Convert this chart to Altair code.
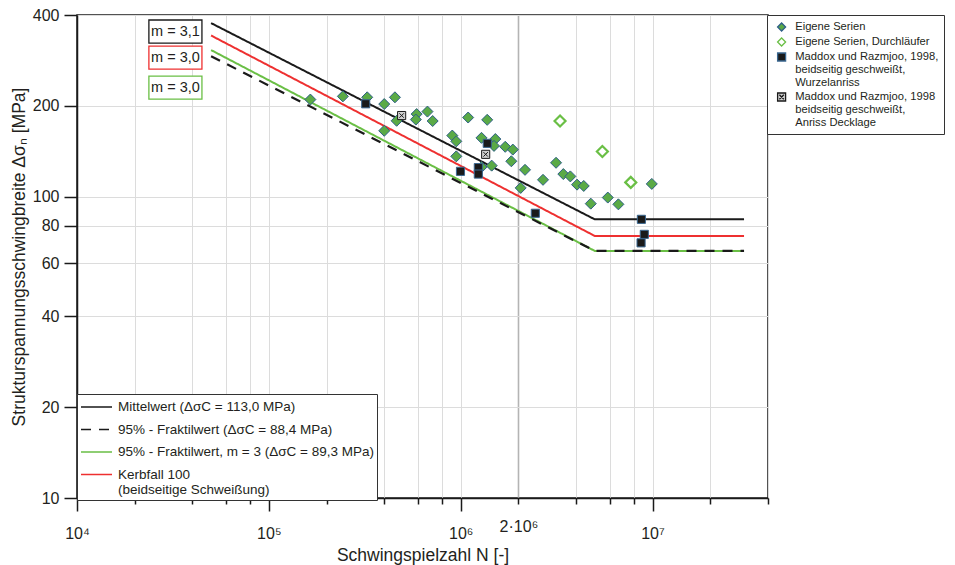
import altair as alt
import pandas as pd

# ---------------- data ----------------
# Eigene Serien (filled diamonds)
eig_N = [164600, 243200, 325700, 399500, 454300, 463700, 399500, 589600, 584000,
         671200, 714500, 1094000, 1375000, 904300, 948600, 948600, 1284000, 1516000,
         1492000, 1707000, 1870000, 1837000, 1451000, 1284000, 2165000, 2056000,
         3142000, 2687000, 3429000, 3730000, 4043000, 4381000, 4767000, 5847000,
         6639000, 9915000]
eig_S = [209.7, 214.9, 213.3, 202.6, 213.3, 178.3, 165.2, 187.7, 180.0,
         191.3, 178.0, 182.8, 179.6, 159.3, 152.4, 135.9, 156.5, 155.1,
         147.2, 146.2, 143.1, 130.9, 126.6, 125.2, 122.6, 106.8,
         129.4, 113.6, 118.7, 116.6, 109.5, 108.4, 94.7, 99.2,
         94.2, 110.1]
# Eigene Serien, Durchläufer (hollow diamonds)
dl_N = [3296000, 5479000, 7705000]
dl_S = [178.0, 141.1, 111.4]
# Maddox und Razmjoo, Wurzelanriss (black squares)
mw_N = [319900, 1376000, 997700, 1236000, 1236000, 2450000, 8750000, 9063000, 8718000]
mw_S = [203.0, 150.1, 121.2, 124.7, 118.7, 88.0, 84.0, 74.9, 70.2]
# Maddox und Razmjoo, Anriss Decklage (crossed squares)
md_N = [492300, 1350000]
md_S = [185.6, 138.0]

series_names = [
    "Eigene Serien",
    "Eigene Serien, Durchläufer",
    "Maddox und Razmjoo, 1998,|beidseitig geschweißt,|Wurzelanriss",
    "Maddox und Razmjoo, 1998|beidseitig geschweißt,|Anriss Decklage",
]

# S-N curves (start, knee, end)
curve_N = [5e4, 5e6, 3e7]
mittel_S = [376, 84, 84]
frak_S = [292, 66, 66]
frak3_S = [306, 66, 66]
kerb_S = [342, 74, 74]
curve_names = [
    "Mittelwert (ΔσC = 113,0 MPa)",
    "95% - Fraktilwert (ΔσC = 88,4 MPa)",
    "95% - Fraktilwert, m = 3 (ΔσC = 89,3 MPa)",
    "Kerbfall 100|(beidseitige Schweißung)",
]

# slope annotations
ann_text = ["m = 3,1", "m = 3,0", "m = 3,0"]
ann_colors = ["#1a1a1a", "#ee3030", "#6abf45"]
ann_N_left = [23700, 23700, 23700]
ann_N_right = [44800, 44800, 44800]
ann_N_mid = [32600, 32600, 32600]
ann_S_top = [385, 315.6, 250.7]
ann_S_bot = [322.8, 264.7, 210.3]
ann_S_mid = [352.5, 289, 229.6]

x_ticks = [1e4, 2e4, 4e4, 6e4, 8e4, 1e5, 2e5, 4e5, 6e5, 8e5,
           1e6, 2e6, 4e6, 6e6, 8e6, 1e7, 2e7, 4e7]
y_ticks = [10, 20, 40, 60, 80, 100, 200, 400]

# ---------------- tables ----------------
pts = pd.DataFrame({
    "N": eig_N + dl_N + mw_N + md_N,
    "S": eig_S + dl_S + mw_S + md_S,
    "Serie": [series_names[0]] * len(eig_N) + [series_names[1]] * len(dl_N)
             + [series_names[2]] * len(mw_N) + [series_names[3]] * len(md_N),
})
pts["ord"] = range(len(pts))

curves = pd.DataFrame({
    "N": curve_N * 4,
    "S": mittel_S + frak_S + frak3_S + kerb_S,
    "Kurve": sum([[c] * 3 for c in curve_names], []),
})

ann = pd.DataFrame({
    "t": ann_text, "Nl": ann_N_left, "Nr": ann_N_right, "Nm": ann_N_mid,
    "St": ann_S_top, "Sb": ann_S_bot, "Sm": ann_S_mid, "k": [0, 1, 2],
})

FONT = "Liberation Sans"
TXT = "#231f20"
XT = "Schwingspielzahl N [-]"
YT = "Strukturspannungsschwingbreite Δσₙ [MPa]"

xscale = alt.Scale(type="log", domain=[1e4, 4e7], nice=False)
yscale = alt.Scale(type="log", domain=[10, 400], nice=False)

major = "indexof([10000,100000,1000000,10000000], datum.value) >= 0"
xaxis = alt.Axis(
    values=x_ticks,
    labelExpr=("datum.value == 10000 ? '10⁴' : datum.value == 100000 ? '10⁵' : "
               "datum.value == 1000000 ? '10⁶' : datum.value == 2000000 ? '2·10⁶' : "
               "datum.value == 10000000 ? '10⁷' : ''"),
    tickSize={"condition": {"test": major, "value": 13}, "value": 6},
    gridColor={"condition": {"test": "datum.value == 2000000", "value": "#b4b4b4"}, "value": "#dcdcdc"},
    gridWidth={"condition": {"test": "datum.value == 2000000", "value": 1.6}, "value": 1},
    labelPadding=14, labelFlush=False, labelOverlap=False,
    titlePadding=5,
)
yaxis = alt.Axis(values=y_ticks, tickSize=13, labelPadding=5, titlePadding=4,
                 gridColor="#dcdcdc", labelOverlap=False)


def X(field):
    return alt.X(field, type="quantitative", scale=xscale, axis=xaxis, title=XT)


def Y(field):
    return alt.Y(field, type="quantitative", scale=yscale, axis=yaxis, title=YT)


line_legend = alt.Legend(
    title=None, orient="none", legendX=0, legendY=379, direction="vertical",
    symbolType="stroke", symbolSize=961, symbolStrokeWidth=1.6, clipHeight=20,
    rowPadding=2.5, labelFontSize=13.5, labelFont=FONT, labelColor=TXT,
    labelOffset=5, padding=3, strokeColor="#333333", fillColor="white",
    labelExpr="split(datum.label, '|')", labelLimit=0,
)
color_scale = alt.Scale(domain=curve_names, range=["#1a1a1a", "#1a1a1a", "#6abf45", "#ee3030"])
dash_scale = alt.Scale(domain=curve_names, range=[[1, 0], [10, 8], [1, 0], [1, 0]])

draw_order = [curve_names[2], curve_names[1], curve_names[3], curve_names[0]]
line_layers = []
for name in draw_order:
    line_layers.append(
        alt.Chart(curves).transform_filter(alt.datum.Kurve == name)
        .mark_line(strokeWidth=2.2 if name == curve_names[1] else 2)
        .encode(
            x=X("N"), y=Y("S"),
            color=alt.Color("Kurve:N", scale=color_scale, legend=line_legend),
            strokeDash=alt.StrokeDash("Kurve:N", scale=dash_scale, legend=line_legend),
        )
    )

pt_legend = alt.Legend(
    title=None, orient="none", legendX=690, legendY=0, direction="vertical",
    symbolSize=64, symbolStrokeWidth=1.3, clipHeight=14, rowPadding=1,
    labelFontSize=11.2, labelFont=FONT, labelColor=TXT, labelOffset=8,
    symbolOffset=4, padding=5, strokeColor="#333333", fillColor="white",
    labelExpr="split(datum.label, '|')", labelLimit=0,
)
cross = "M-1,-1H1V1H-1Z M-0.55,-0.55L0.55,0.55 M-0.55,0.55L0.55,-0.55"
is_diamond = "indexof(datum.Serie, 'Eigene') == 0"
is_runout = "datum.Serie == 'Eigene Serien, Durchläufer'"
points = alt.Chart(pts).mark_point(filled=False, opacity=1).encode(
    x=X("N"), y=Y("S"),
    shape=alt.Shape("Serie:N", scale=alt.Scale(domain=series_names,
                    range=["diamond", "diamond", "square", cross]), legend=pt_legend),
    fill=alt.Fill("Serie:N", scale=alt.Scale(domain=series_names,
                  range=["#5aaa46", "#ffffff", "#1a1a1a", "#d0d0d0"]), legend=pt_legend),
    stroke=alt.Stroke("Serie:N", scale=alt.Scale(domain=series_names,
                      range=["#2e5f86", "#6abf45", "#3a6790", "#1a1a1a"]), legend=pt_legend),
    size=alt.condition(is_diamond, alt.value(121), alt.value(66)),
    strokeWidth=alt.condition(is_runout, alt.value(2.2), alt.value(1)),
    order=alt.Order("ord:Q"),
)

ann_layers = []
for k in range(3):
    base = alt.Chart(ann).transform_filter(alt.datum.k == k)
    ann_layers.append(
        base.mark_rect(fill="white", stroke=ann_colors[k], strokeWidth=1.3).encode(
            x=X("Nl"), x2="Nr:Q", y=Y("St"), y2="Sb:Q")
    )
    ann_layers.append(
        base.mark_text(font=FONT, fontSize=14.5, color=TXT).encode(
            x=X("Nm"), y=Y("Sm"), text="t:N")
    )

chart = alt.layer(*line_layers, points, *ann_layers).properties(
    width=691, height=483,
    autosize=alt.AutoSizeParams(type="none"),
    padding={"left": 69, "top": 7, "right": 179, "bottom": 67},
).configure_view(stroke="#1a1a1a", strokeWidth=1.5).configure_axis(
    domainColor="#1a1a1a", domainWidth=1.5, tickColor="#1a1a1a", tickWidth=1.5,
    labelFont=FONT, labelFontSize=16, labelColor=TXT,
    titleFont=FONT, titleFontSize=17.5, titleFontWeight="normal", titleColor=TXT,
)

chart.save("out.html", embed_options={"renderer": "svg", "actions": False})
